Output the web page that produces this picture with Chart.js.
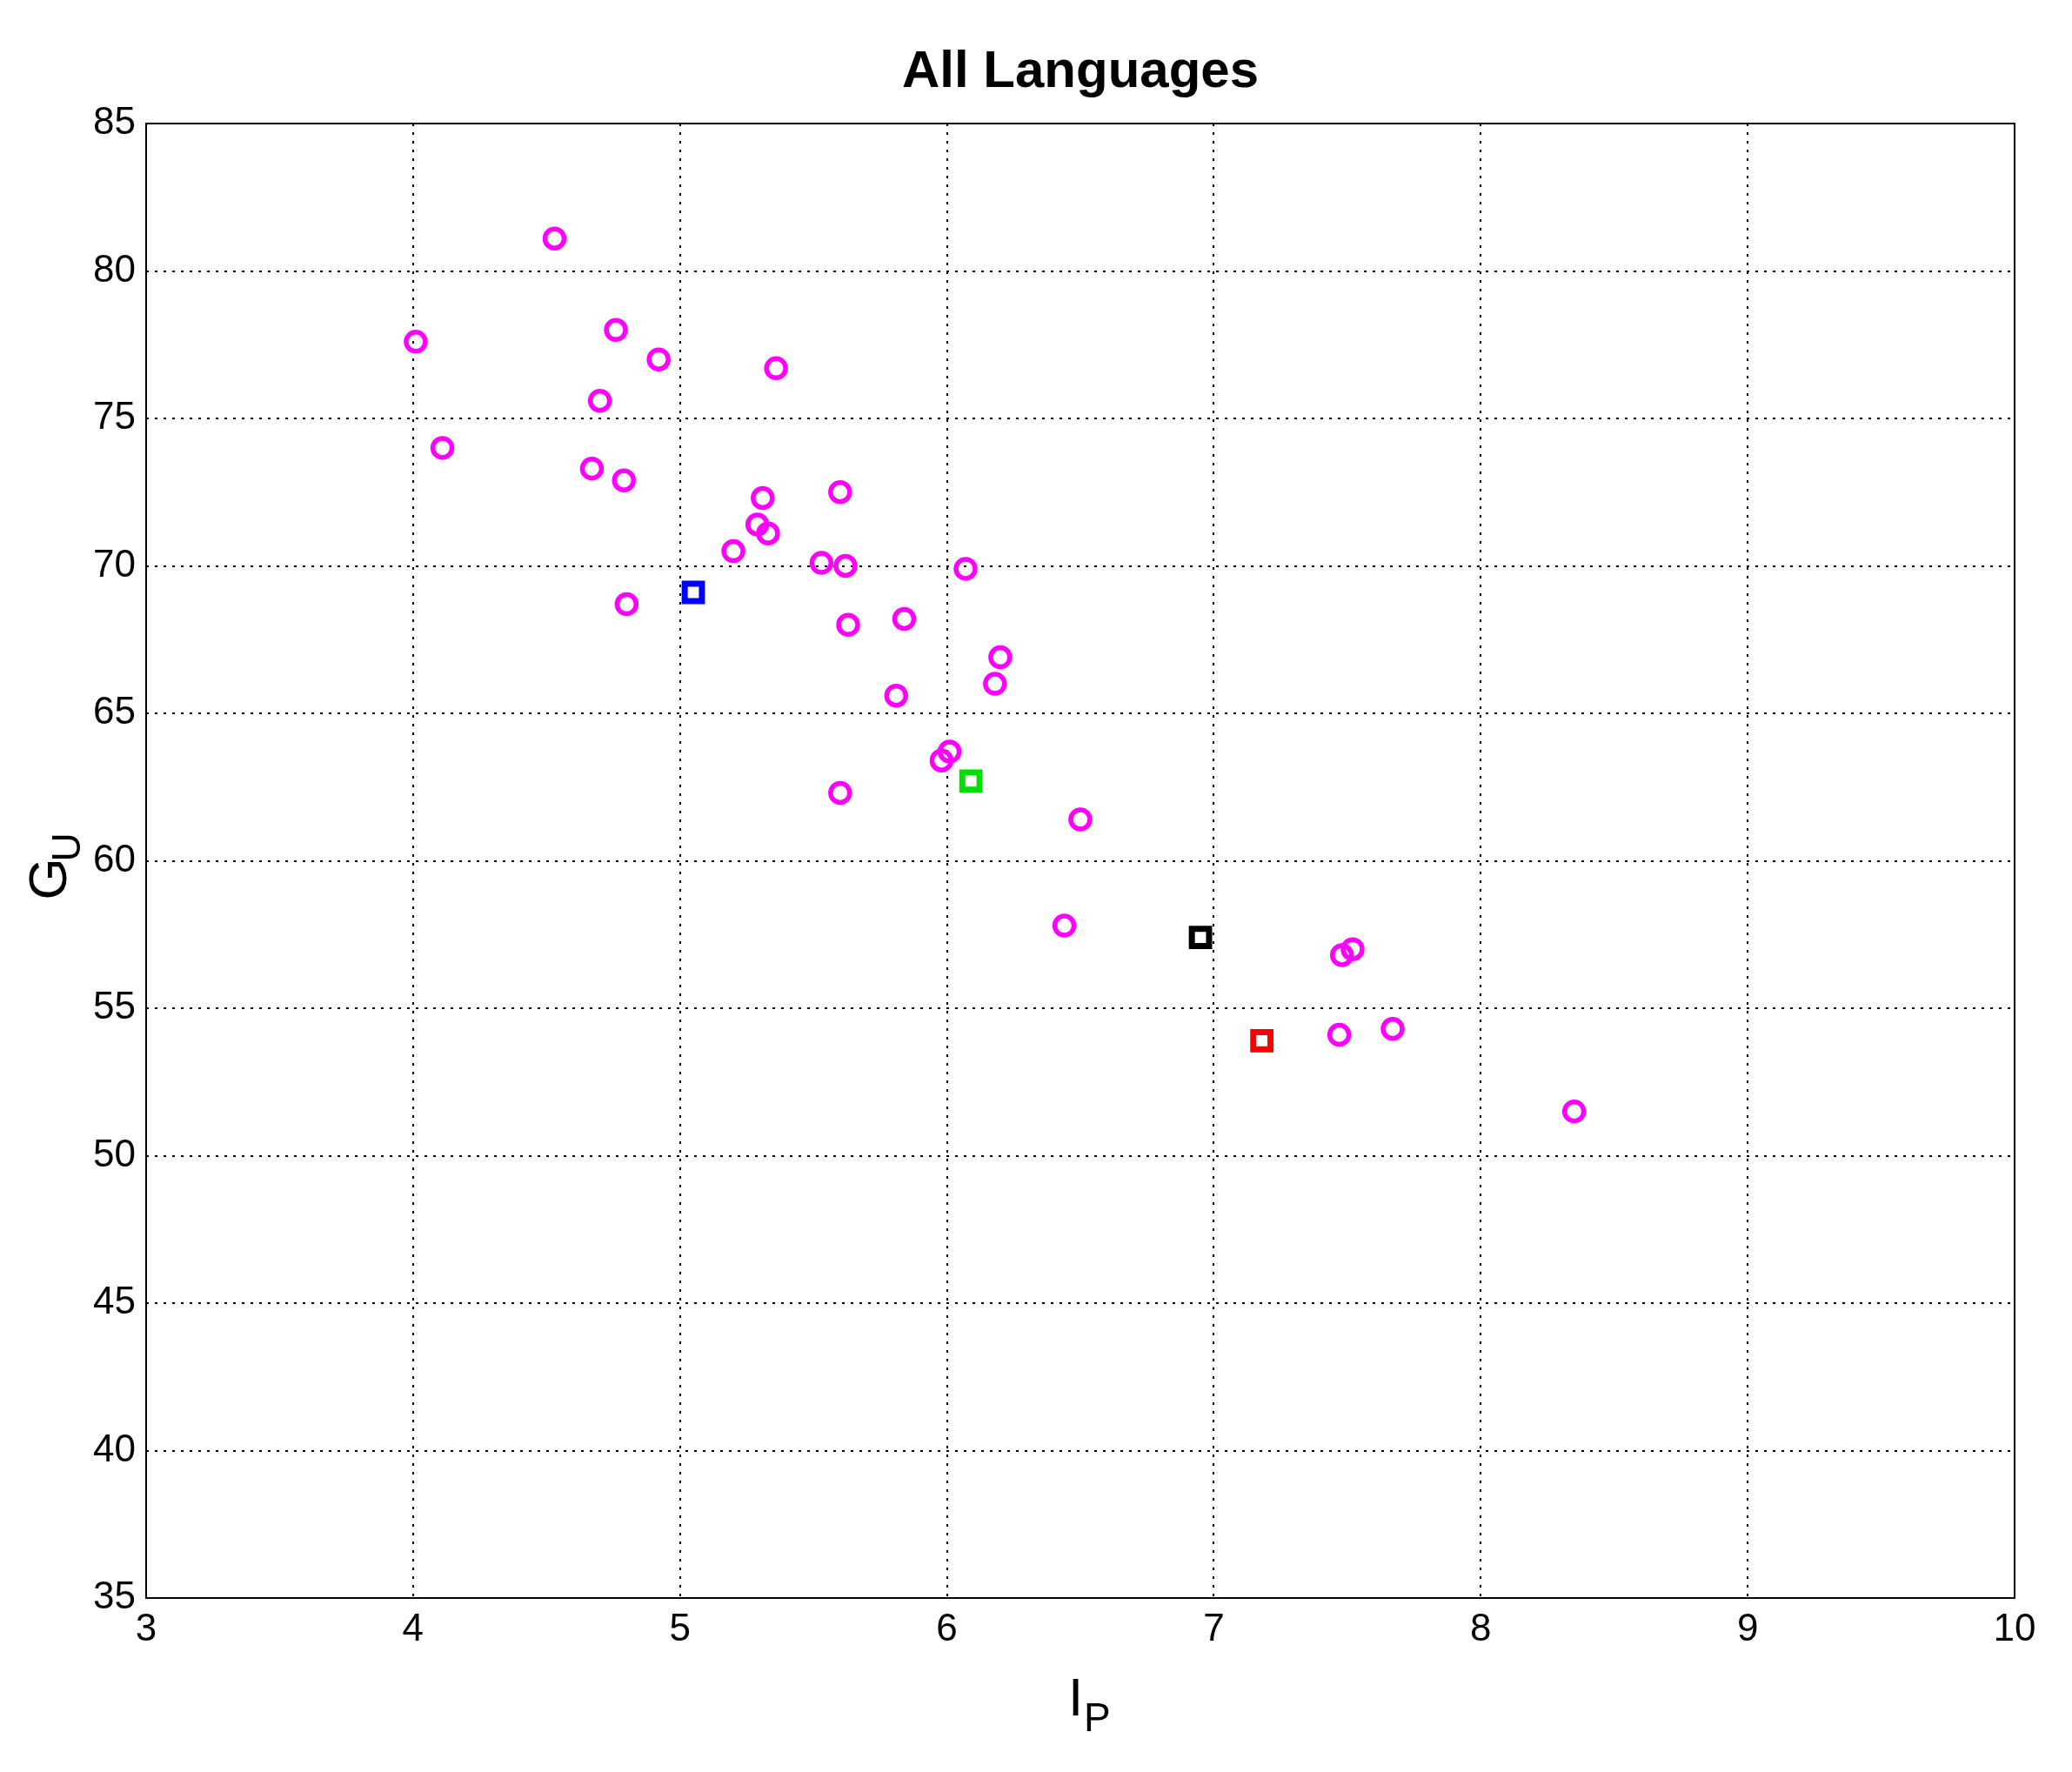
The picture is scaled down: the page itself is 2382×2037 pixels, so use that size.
<!DOCTYPE html>
<html>
<head>
<meta charset="utf-8">
<script src="https://cdn.jsdelivr.net/npm/chart.js@4.4.0/dist/chart.umd.min.js"></script>
<style>
  html, body { margin: 0; padding: 0; background: #fff; }
  #wrap { width: 2382px; height: 2037px; }
</style>
</head>
<body>
<div id="wrap"><canvas id="c"></canvas></div>
<script>
// Languages (magenta circles)
var langX = [4.01, 4.53, 4.11, 4.76, 4.92, 4.70, 5.36, 4.67, 4.79, 5.31, 5.60, 5.29, 5.33,
             5.20, 5.53, 5.62, 6.07, 4.80, 5.84, 5.63, 6.20, 6.18, 5.81, 6.01, 5.98, 5.60,
             6.50, 6.44, 7.48, 7.52, 7.47, 7.67, 8.35];
var langY = [77.6, 81.1, 74.0, 78.0, 77.0, 75.6, 76.7, 73.3, 72.9, 72.3, 72.5, 71.4, 71.1,
             70.5, 70.1, 70.0, 69.9, 68.7, 68.2, 68.0, 66.9, 66.0, 65.6, 63.7, 63.4, 62.3,
             61.4, 57.8, 56.8, 57.0, 54.1, 54.3, 51.5];
// Highlighted points (squares)
var markX = [5.05, 6.09, 6.95, 7.18];
var markY = [69.1, 62.7, 57.4, 53.9];
var markColors = ['#0000ff', '#00e000', '#000000', '#ff0000'];

var xTicks = [3, 4, 5, 6, 7, 8, 9, 10];
var yTicks = [35, 40, 45, 50, 55, 60, 65, 70, 75, 80, 85];

function toPoints(xs, ys) {
  return xs.map(function(x, i) { return { x: x, y: ys[i] }; });
}

// Frame, title and axis titles with subscripts
var decor = {
  id: 'decor',
  afterDraw: function(chart) {
    var ctx = chart.ctx, a = chart.chartArea;
    ctx.save();
    ctx.strokeStyle = '#000';
    ctx.lineWidth = 2;
    ctx.strokeRect(a.left, a.top, a.right - a.left, a.bottom - a.top);
    ctx.fillStyle = '#000';
    ctx.textBaseline = 'alphabetic';
    ctx.font = '600 60px "Liberation Sans", Arial, sans-serif';
    ctx.textAlign = 'center';
    ctx.fillText('All Languages', (a.left + a.right) / 2, 100);
    // x title I_P
    var cx = (a.left + a.right) / 2;
    ctx.font = '62px "Liberation Sans", Arial, sans-serif';
    ctx.textAlign = 'left';
    ctx.fillText('I', cx - 14, a.bottom + 135);
    ctx.font = '46px "Liberation Sans", Arial, sans-serif';
    ctx.fillText('P', cx + 4, a.bottom + 153);
    // y title G_U
    var cy = (a.top + a.bottom) / 2;
    ctx.translate(76, cy + 45);
    ctx.rotate(-Math.PI / 2);
    ctx.font = '62px "Liberation Sans", Arial, sans-serif';
    ctx.fillText('G', 0, 0);
    ctx.font = '46px "Liberation Sans", Arial, sans-serif';
    ctx.fillText('U', 44, 16);
    ctx.restore();
  }
};

var tickFont = { family: '"Liberation Sans", Arial, sans-serif', size: 44 };

new Chart(document.getElementById('c'), {
  type: 'scatter',
  data: {
    datasets: [{
      data: toPoints(langX, langY),
      pointStyle: 'circle',
      pointRadius: 11,
      borderColor: '#ff00ff',
      backgroundColor: 'rgba(0,0,0,0)',
      borderWidth: 5.5
    }, {
      data: toPoints(markX, markY),
      pointStyle: 'rect',
      pointRadius: 14,
      borderColor: markColors,
      backgroundColor: 'rgba(0,0,0,0)',
      borderWidth: 7
    }]
  },
  plugins: [decor],
  options: {
    responsive: true,
    maintainAspectRatio: false,
    animation: false,
    layout: { padding: { top: 142, right: 66, left: 0, bottom: 0 } },
    plugins: { legend: { display: false }, tooltip: { enabled: false } },
    scales: {
      x: {
        type: 'linear', min: 3, max: 10,
        afterBuildTicks: function(s) { s.ticks = xTicks.map(function(v) { return { value: v }; }); },
        afterFit: function(s) { s.height = 200; },
        grid: { color: '#000', lineWidth: 2, drawTicks: false },
        border: { display: false, dash: [3, 7] },
        ticks: { color: '#000', font: tickFont, padding: 10, maxRotation: 0 }
      },
      y: {
        type: 'linear', min: 35, max: 85,
        afterBuildTicks: function(s) { s.ticks = yTicks.map(function(v) { return { value: v }; }); },
        afterFit: function(s) { s.width = 168; },
        grid: { color: '#000', lineWidth: 2, drawTicks: false },
        border: { display: false, dash: [3, 7] },
        ticks: { color: '#000', font: tickFont, padding: 12 }
      }
    }
  }
});
</script>
</body>
</html>
